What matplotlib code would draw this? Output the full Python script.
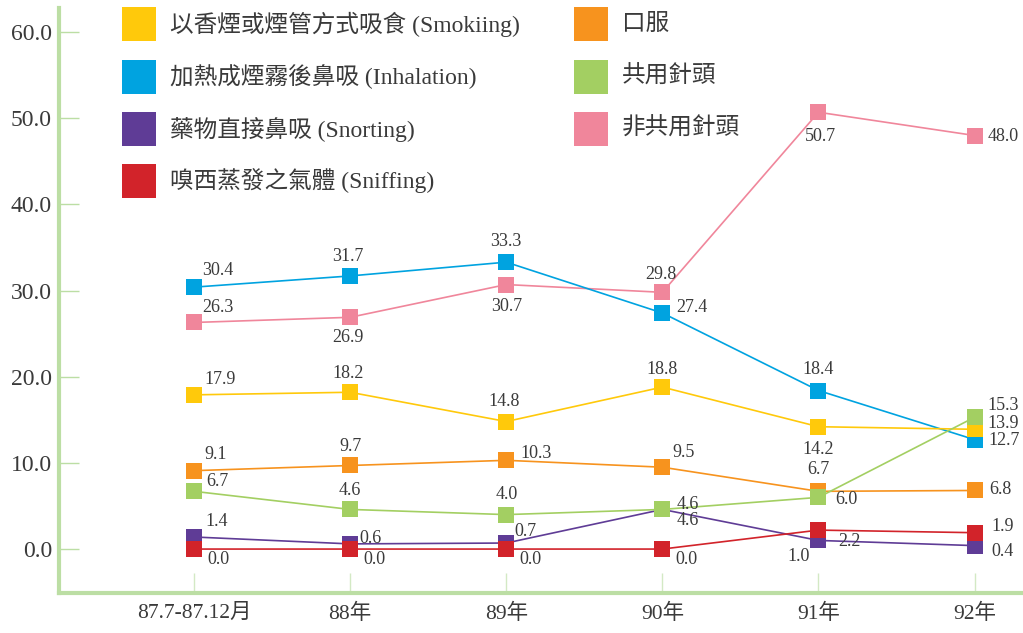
import matplotlib
matplotlib.use("Agg")
import matplotlib.pyplot as plt
from matplotlib.patches import Rectangle

# ---- data -------------------------------------------------------------
periods = ["87.7-87.12月", "88年", "89年", "90年", "91年", "92年"]

smoking = [17.9, 18.2, 14.8, 18.8, 14.2, 13.9]
inhalation = [30.4, 31.7, 33.3, 27.4, 18.4, 12.7]
snorting = [1.4, 0.6, 0.7, 4.6, 1.0, 0.4]
sniffing = [0.0, 0.0, 0.0, 0.0, 2.2, 1.9]
oral = [9.1, 9.7, 10.3, 9.5, 6.7, 6.8]
shared_needle = [6.7, 4.6, 4.0, 4.6, 6.0, 15.3]
unshared_needle = [26.3, 26.9, 30.7, 29.8, 50.7, 48.0]

series_names = [
    "以香煙或煙管方式吸食 (Smokiing)",
    "加熱成煙霧後鼻吸 (Inhalation)",
    "藥物直接鼻吸 (Snorting)",
    "嗅西蒸發之氣體 (Sniffing)",
    "口服",
    "共用針頭",
    "非共用針頭",
]
yticks = [0, 10, 20, 30, 40, 50, 60]

# ---- styling ----------------------------------------------------------
colors = {
    "smoking": "#FFC90B",
    "inhalation": "#00A3E0",
    "snorting": "#5F3C96",
    "sniffing": "#D2232A",
    "oral": "#F7931E",
    "shared": "#A3CF62",
    "unshared": "#F0869B",
}
text_color = "#3a3a3a"
axis_green = "#BCDEA4"
tick_green = "#D3E9C4"
serif = ["Liberation Serif", "Noto Sans CJK TC", "DejaVu Sans"]

# label offsets (pixels) for each value label, per series
offsets = {
    "smoking": [(26, 15), (-2, 19), (-2, 20), (0, 18), (0, -23), (29, 6)],
    "inhalation": [(24, 17), (-2, 19), (0, 21), (29, 5), (0, 21), (29, -1)],
    "unshared": [(24, 15), (-2, -20), (0, -22), (-2, 18), (2, -24), (29, -1)],
    "oral": [(22, 16), (0, 19), (30, 7), (21, 15), (0, 22), (26, 1)],
    "shared": [(23, 10), (0, 19), (0, 20), (25, 5), (28, -2), (29, 12)],
    "snorting": [(23, 15), (20, 5), (19, 12), (25, -11), (-20, -16), (28, -6)],
    "sniffing": [(24, -10), (24, -10), (24, -10), (24, -10), (31, -11), (28, 6)],
}

W, H = 1023, 633
fig = plt.figure(figsize=(W / 100, H / 100), dpi=100)
fig.patch.set_facecolor("white")

left_px, right_px, top_px, bottom_px = 59, 1023, 8, 593
ax = fig.add_axes([left_px / W, 1 - bottom_px / H,
                   (right_px - left_px) / W, (bottom_px - top_px) / H])

x = list(range(len(periods)))

plot_order = [
    ("unshared", unshared_needle),
    ("inhalation", inhalation),
    ("smoking", smoking),
    ("oral", oral),
    ("snorting", snorting),
    ("shared", shared_needle),
    ("sniffing", sniffing),
]

for key, vals in plot_order:
    c = colors[key]
    ax.plot(x, vals, color=c, lw=1.2, marker="s", markersize=11,
            markeredgewidth=0, markerfacecolor=c, zorder=3)
    for xi, v, (dx, dy) in zip(x, vals, offsets[key]):
        ax.annotate(f"{v:.1f}", (xi, v), xytext=(dx, dy),
                    textcoords="offset pixels", ha="center", va="center",
                    fontsize=13, family=serif, color=text_color, zorder=5)

# ---- axes -------------------------------------------------------------
ax.set_xlim(-0.865, 5.31)
ax.set_ylim(-5.1, 62.8)
ax.set_yticks(yticks)
ax.set_yticklabels([f"{t:.1f}" for t in yticks])
ax.set_xticks(x)
ax.set_xticklabels(periods)

for side in ("top", "right"):
    ax.spines[side].set_visible(False)
for side in ("left", "bottom"):
    ax.spines[side].set_color(axis_green)
    ax.spines[side].set_linewidth(3)

ax.tick_params(axis="y", direction="in", length=14.5, width=1,
               color=axis_green, pad=5, labelsize=17, labelcolor=text_color)
ax.tick_params(axis="x", direction="in", length=14.5, width=1,
               color=tick_green, pad=8, labelsize=15.5, labelcolor=text_color)
for lbl in ax.get_yticklabels() + ax.get_xticklabels():
    lbl.set_family(serif)

# ---- legend (two columns of swatches and labels) ----------------------
legend_keys = ["smoking", "inhalation", "snorting", "sniffing",
               "oral", "shared", "unshared"]
row_y = [24, 77, 129, 181]
swatch = 34
for i, (key, name) in enumerate(zip(legend_keys, series_names)):
    col, row = (0, i) if i < 4 else (1, i - 4)
    sx = 122 if col == 0 else 574
    cy = row_y[row]
    fig.add_artist(Rectangle((sx / W, 1 - (cy + swatch / 2) / H),
                             swatch / W, swatch / H,
                             transform=fig.transFigure,
                             facecolor=colors[key], edgecolor="none"))
    fig.text((sx + 48) / W, 1 - cy / H, name, ha="left", va="center",
             fontsize=17, family=serif, color=text_color)

fig.savefig("out.png", dpi=100, facecolor="white")
